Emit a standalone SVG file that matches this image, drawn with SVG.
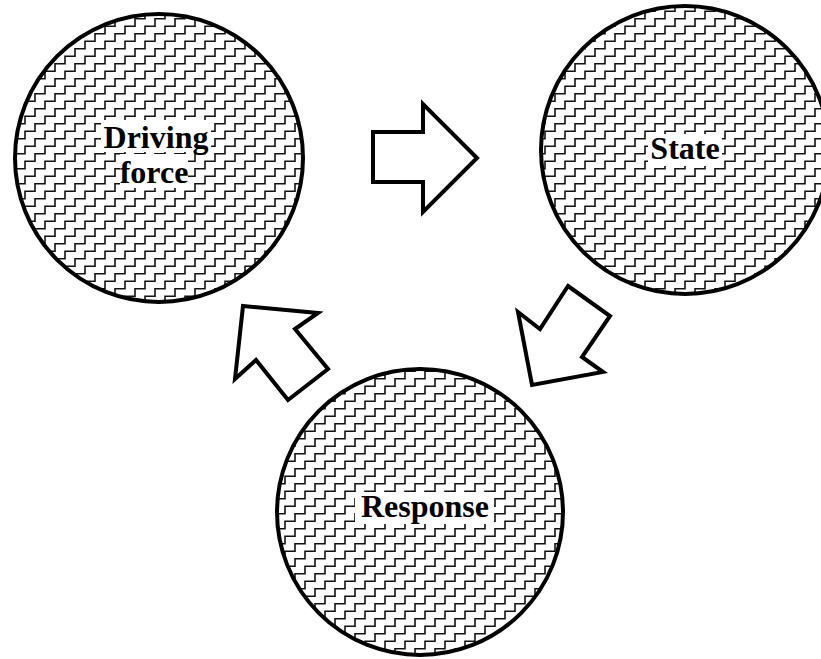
<svg xmlns="http://www.w3.org/2000/svg" width="821" height="659" viewBox="0 0 821 659">
  <style>
    .node { stroke: #000; stroke-width: 4; fill: url(#stairs); }
    .arrow { stroke: #000; stroke-width: 4; fill: #fff; stroke-linejoin: miter; }
    .label { font-family: "Liberation Serif", "Times New Roman", serif; font-weight: bold; font-size: 32px; text-anchor: middle; fill: #000; }
    .halo { fill: #fff; }
  </style>
  <defs>
    <pattern id="stairs" patternUnits="userSpaceOnUse" width="20" height="15">
      <rect width="20" height="15" fill="#fff"/>
      <path d="M5,15 V11.25 H15 V3.75 H20 M0,3.75 H5 V0" fill="none" stroke="#111" stroke-width="1.6" stroke-linecap="square"/>
    </pattern>
  </defs>
  <rect width="821" height="659" fill="#fff"/>

  <g id="connectors">
    <polygon class="arrow" points="373,132 423,132 423,104 477,158 423,212 423,182 373,182"/>
    <polygon class="arrow" points="568,286 610,316 582,357 603,372 532,385 518,312 540,329"/>
    <polygon class="arrow" points="243,306 318,313 295,329 328,369 288,400 256,360 235,379"/>
  </g>

  <g id="node-driving-force">
    <circle class="node" cx="159" cy="158" r="144"/>
    <rect class="halo" x="101" y="120" width="110" height="32"/>
    <rect class="halo" x="120" y="154" width="68" height="34"/>
    <text class="label" x="156" y="148">Driving</text>
    <text class="label" x="154" y="183">force</text>
  </g>

  <g id="node-state">
    <circle class="node" cx="685" cy="150" r="144"/>
    <rect class="halo" x="648" y="134" width="74" height="32"/>
    <text class="label" x="685" y="159">State</text>
  </g>

  <g id="node-response">
    <circle class="node" cx="420" cy="512" r="143"/>
    <rect class="halo" x="355" y="492" width="139" height="32"/>
    <text class="label" x="425" y="517">Response</text>
  </g>
</svg>
